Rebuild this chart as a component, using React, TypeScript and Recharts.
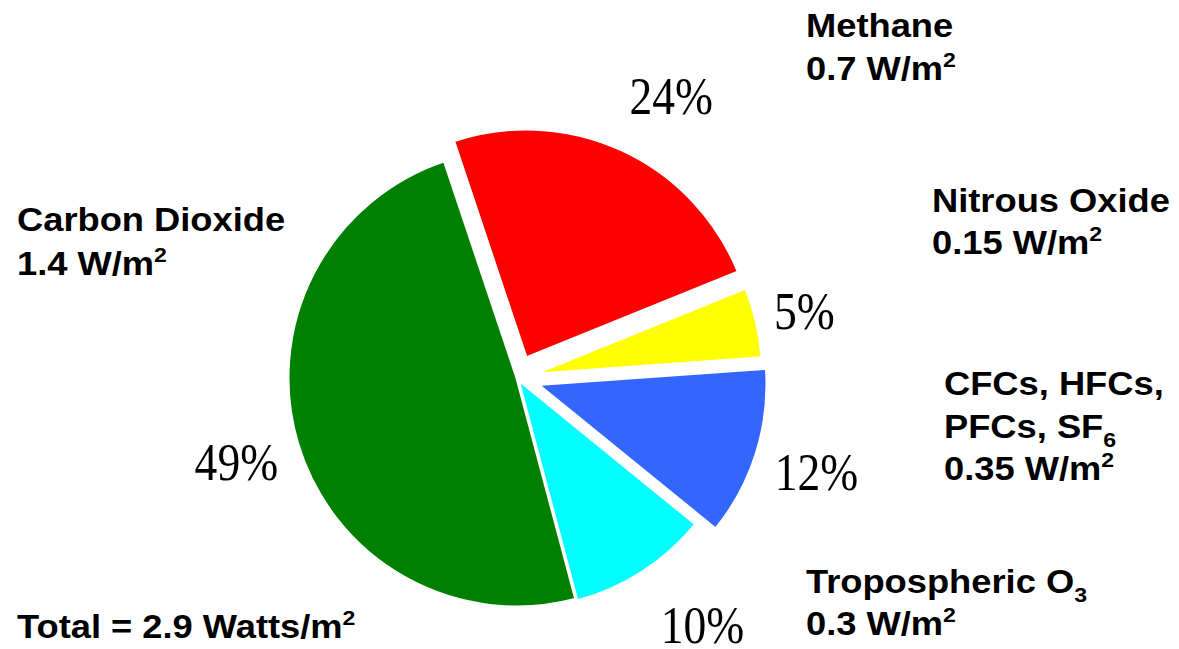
import React from 'react';
import { PieChart, Pie, Cell, Sector } from 'recharts';

// radiative forcing shares by gas
const gases = ['Carbon Dioxide', 'Tropospheric O3', 'CFCs, HFCs, PFCs, SF6', 'Nitrous Oxide', 'Methane'];
const shares = [49, 10, 12, 5, 24];
const forcing = ['1.4', '0.3', '0.35', '0.15', '0.7'];
const totalForcing = '2.9';

const COLORS = ['#008000', '#00ffff', '#3366ff', '#ffff00', '#ff0000'];
// how far each slice is pulled out of the pie
const EXPLODE = [0, 2, 22, 17, 22];
// percentage label radius and angle nudge
const LABEL_R = [293, 309, 314, 295, 321];
const LABEL_NUDGE = [0, 4, 0, 0, -4];

const RAD = Math.PI / 180;

const data = gases.map((g, i) => ({ name: g, value: shares[i], idx: i }));

const ExplodedSector = (props: any) => {
  const i = props.payload?.idx ?? props.idx ?? 0;
  const off = EXPLODE[i] || 0;
  const dx = off * Math.cos(-props.midAngle * RAD);
  const dy = off * Math.sin(-props.midAngle * RAD);
  return <Sector {...props} cx={props.cx + dx} cy={props.cy + dy} />;
};

const renderPct = (props: any) => {
  const i = props.payload?.idx ?? props.index ?? 0;
  const a = (props.midAngle + LABEL_NUDGE[i]) * RAD;
  const r = LABEL_R[i];
  const x = props.cx + r * Math.cos(a);
  const y = props.cy - r * Math.sin(a);
  return (
    <text
      key={`pct-${i}`}
      transform={`translate(${x},${y}) scale(0.86,1)`}
      textAnchor="middle"
      dominantBaseline="central"
      fontFamily="'Liberation Serif', 'Times New Roman', serif"
      fontSize={53}
      fill="#000"
    >
      {shares[i]}%
    </text>
  );
};

const sansBold = {
  fontFamily: "'Liberation Sans', Arial, sans-serif",
  fontWeight: 700,
  fontSize: 33,
  fill: '#000',
};

const Sup = ({ children }: { children: React.ReactNode }) => (
  <tspan fontSize={21} dy={-13}>{children}</tspan>
);
const Sub = ({ children }: { children: React.ReactNode }) => (
  <tspan fontSize={21} dy={9}>{children}</tspan>
);

const Wm2 = ({ v }: { v: string }) => (
  <>
    {v} W/m<Sup>2</Sup>
  </>
);

const Line = ({ x, y, children }: { x: number; y: number; children: React.ReactNode }) => (
  <text {...sansBold} transform={`translate(${x},${y}) scale(1.1,1)`}>
    {children}
  </text>
);

export default function App() {
  return (
    <div style={{ position: 'absolute', left: 0, top: 0, width: 1179, height: 649, background: '#fff' }}>
      <PieChart width={1179} height={649}>
        <Pie
          data={data}
          dataKey="value"
          cx={512}
          cy={373}
          outerRadius={229}
          startAngle={108.5}
          endAngle={468.5}
          stroke="#fff"
          strokeWidth={3}
          shape={ExplodedSector}
          label={renderPct}
          labelLine={false}
          isAnimationActive={false}
        >
          {data.map((d, i) => (
            <Cell key={`cell-${i}`} fill={COLORS[i]} />
          ))}
        </Pie>
      </PieChart>
      <svg
        width={1179}
        height={649}
        style={{ position: 'absolute', left: 0, top: 0, pointerEvents: 'none' }}
      >
        <Line x={17} y={231}>{gases[0]}</Line>
        <Line x={17} y={275}><Wm2 v={forcing[0]} /></Line>

        <Line x={806} y={37}>{gases[4]}</Line>
        <Line x={806} y={80}><Wm2 v={forcing[4]} /></Line>

        <Line x={932} y={212}>{gases[3]}</Line>
        <Line x={932} y={254}><Wm2 v={forcing[3]} /></Line>

        <Line x={944} y={395}>CFCs, HFCs,</Line>
        <Line x={944} y={438}>PFCs, SF<Sub>6</Sub></Line>
        <Line x={944} y={480}><Wm2 v={forcing[2]} /></Line>

        <Line x={806} y={593}>Tropospheric O<Sub>3</Sub></Line>
        <Line x={806} y={635}><Wm2 v={forcing[1]} /></Line>

        <Line x={17} y={638}>
          Total = {totalForcing} Watts/m<Sup>2</Sup>
        </Line>
      </svg>
    </div>
  );
}
